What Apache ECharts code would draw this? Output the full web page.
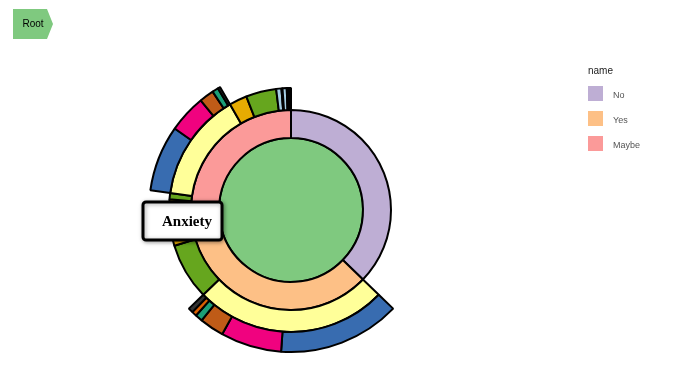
<!DOCTYPE html>
<html>
<head>
<meta charset="utf-8">
<script src="https://cdn.jsdelivr.net/npm/echarts@6/dist/echarts.min.js"></script>
<style>html,body{margin:0;padding:0;background:#fff}#c{width:689px;height:372px}</style>
</head>
<body>
<div id="c"></div>
<script>
// ---- data ----
const rootName = 'Root';
const answerNames = ['No', 'Yes', 'Maybe'];
const noValue = 134;

const yesGroups = ['Anxiety', 'Depression', 'Stress'];
const yesGroupValues = [null, 27, 9];
const yesAnxietyLevels = ['Mild', 'Moderate', 'Severe', 'Very severe', 'Extreme', 'Unknown'];
const yesAnxietyValues = [50, 25, 10, 3, 2, 2];

const maybeGroups = ['Irritability', 'Fatigue', 'Anxiety', 'Stress', 'Depression', 'Insomnia', 'Panic', 'Worry', 'Other 1', 'Other 2', 'Other 3'];
const maybeGroupValues = [13, 3, null, 8.5, 14.5, 2.5, 0.5, 2, 0.7, 0.7, 0.6];
const maybeAnxietyLevels = ['Mild', 'Moderate', 'Severe', 'Very severe', 'Unknown'];
const maybeAnxietyValues = [27, 15.5, 6, 2.5, 1];

const legendTitle = 'name';
const legendNames = ['No', 'Yes', 'Maybe'];
const breadcrumbLabel = 'Root';
const tooltipLabel = 'Anxiety';

// ---- styles ----
const colorByName = {
  'Root': '#7fc97f', 'No': '#beaed4', 'Yes': '#fdc086', 'Maybe': '#fb9a99',
  'Anxiety': '#ffff99', 'Depression': '#66a61e', 'Stress': '#e6ab02',
  'Irritability': '#e6ab02', 'Fatigue': '#66a61e', 'Insomnia': '#a6cee3',
  'Panic': '#1f78b4', 'Worry': '#a6cee3', 'Other 1': '#333333', 'Other 2': '#333333', 'Other 3': '#333333',
  'Mild': '#386cb0', 'Moderate': '#f0027f', 'Severe': '#bf5b17', 'Very severe': '#1b9e77',
  'Extreme': '#d95f02', 'Unknown': '#333333'
};

function node(name, value, children) {
  const n = { name: name, itemStyle: { color: colorByName[name] } };
  if (value != null) n.value = value;
  if (children) n.children = children;
  return n;
}
function leaves(names, values) {
  return names.map((n, i) => node(n, values[i]));
}

const yesChildren = yesGroups.map((g, i) =>
  g === 'Anxiety' ? node(g, null, leaves(yesAnxietyLevels, yesAnxietyValues)) : node(g, yesGroupValues[i]));
const maybeChildren = maybeGroups.map((g, i) =>
  g === 'Anxiety' ? node(g, null, leaves(maybeAnxietyLevels, maybeAnxietyValues)) : node(g, maybeGroupValues[i]));

const tree = [node(rootName, null, [
  node(answerNames[0], noValue),
  node(answerNames[1], null, yesChildren),
  node(answerNames[2], null, maybeChildren)
])];

// ---- graphics ----
const graphics = [];
graphics.push({
  type: 'polygon', z: 10,
  shape: { points: [[13, 9], [47, 9], [53, 24], [47, 39], [13, 39]] },
  style: { fill: '#7fc97f' }
});
graphics.push({
  type: 'text', z: 11, x: 33, y: 24,
  style: { text: breadcrumbLabel, fill: '#000', fontSize: 10, fontFamily: 'Liberation Sans, Arial', textAlign: 'center', textVerticalAlign: 'middle' }
});
graphics.push({
  type: 'text', z: 11, x: 588, y: 71,
  style: { text: legendTitle, fill: '#222', fontSize: 10, fontFamily: 'Liberation Sans, Arial', textAlign: 'left', textVerticalAlign: 'middle' }
});
legendNames.forEach((n, i) => {
  graphics.push({
    type: 'rect', z: 11,
    shape: { x: 588, y: 86 + i * 25, width: 15, height: 15 },
    style: { fill: colorByName[n] }
  });
  graphics.push({
    type: 'text', z: 11, x: 613, y: 95.5 + i * 25,
    style: { text: n, fill: '#555', fontSize: 9, fontFamily: 'Liberation Sans, Arial', textAlign: 'left', textVerticalAlign: 'middle' }
  });
});
graphics.push({
  type: 'rect', z: 100,
  shape: { x: 143, y: 202, width: 79, height: 38, r: 3 },
  style: { fill: '#fff', stroke: '#000', lineWidth: 3, shadowBlur: 4, shadowColor: 'rgba(0,0,0,0.35)', shadowOffsetX: 1, shadowOffsetY: 1 }
});
graphics.push({
  type: 'text', z: 101, x: 162, y: 222,
  style: { text: tooltipLabel, fill: '#000', fontSize: 15, fontWeight: 'bold', fontFamily: 'Liberation Serif, Times New Roman, serif', textAlign: 'left', textVerticalAlign: 'middle' }
});

const chart = echarts.init(document.getElementById('c'), null, { renderer: 'canvas' });
chart.setOption({
  animation: false,
  graphic: graphics,
  series: [{
    type: 'sunburst',
    center: [291, 210],
    sort: null,
    startAngle: 90,
    clockwise: true,
    nodeClick: false,
    data: tree,
    label: { show: false },
    itemStyle: { borderColor: '#000', borderWidth: 2 },
    emphasis: { focus: 'none' },
    levels: [
      {},
      { r0: 0, r: 72 },
      { r0: 72, r: 100 },
      { r0: 100, r: 122 },
      { r0: 122, r: 142 }
    ]
  }]
});
</script>
</body>
</html>
